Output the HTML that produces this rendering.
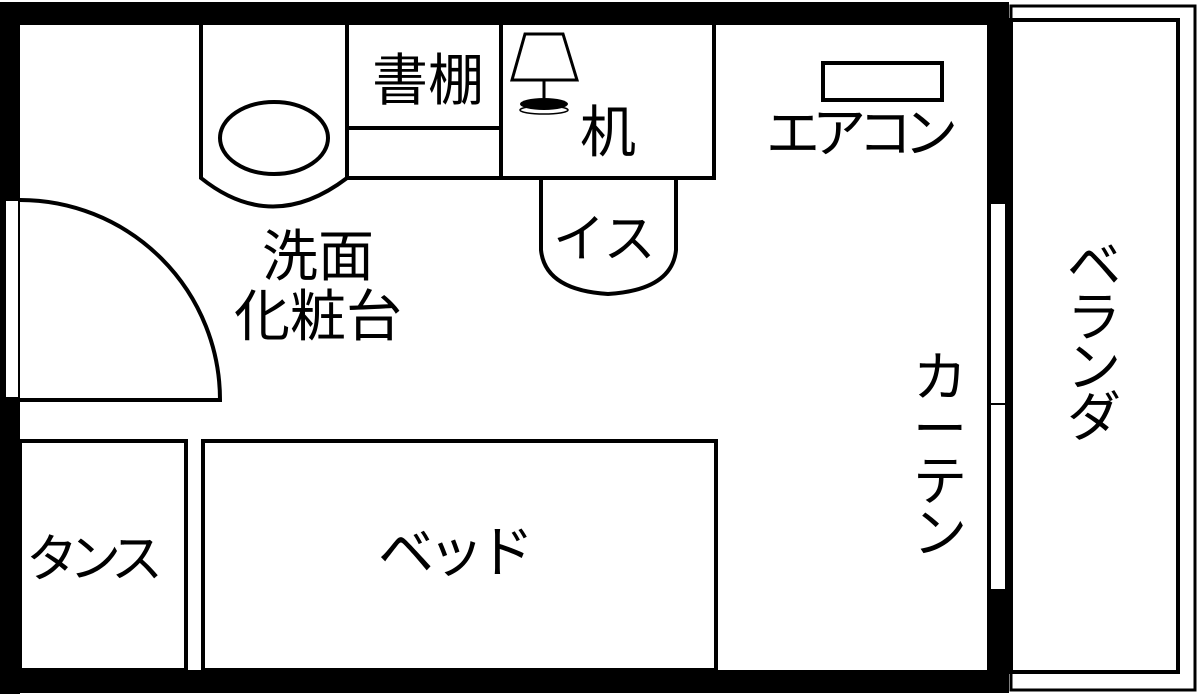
<!DOCTYPE html>
<html><head><meta charset="utf-8"><style>
html,body{margin:0;padding:0;background:#fff;}
svg{display:block;}
text{font-family:"Liberation Sans","Noto Sans CJK JP",sans-serif;fill:#000;}
</style></head><body>
<svg width="1200" height="696" viewBox="0 0 1200 696" xmlns="http://www.w3.org/2000/svg">
<rect width="1200" height="696" fill="#fff"/>
<!-- walls -->
<rect x="0" y="2" width="1008" height="23" fill="#000"/>
<rect x="0" y="2" width="20" height="692" fill="#000"/>
<rect x="0" y="670" width="1008" height="23" fill="#000"/>
<rect x="987" y="2" width="22" height="691" fill="#000"/>
<!-- left door window -->
<rect x="5" y="200" width="14" height="198" fill="#fff" stroke="#000" stroke-width="2"/>
<!-- right window -->
<rect x="990" y="203" width="16" height="387" fill="#fff" stroke="#000" stroke-width="2"/>
<line x1="990" y1="404" x2="1006" y2="404" stroke="#000" stroke-width="2"/>
<!-- balcony -->
<rect x="1011" y="6" width="184" height="684" fill="none" stroke="#000" stroke-width="3"/>
<rect x="1011" y="20" width="167" height="652" fill="none" stroke="#000" stroke-width="4"/>
<g fill="none" stroke="#000" stroke-width="4">
<path d="M20 200 A200 200 0 0 1 220 400 L20 400"/>
<path d="M201 24 V178 Q272 235 347 178 V24"/>
<ellipse cx="274" cy="138" rx="54" ry="36"/>
<path d="M347 24 V178 H714 V24 M347 128 H501 M501 24 V178"/>
<path d="M541 178 V250 Q545 290 608 294 Q672 290 676 250 V178"/>
<rect x="823" y="63" width="119" height="37"/>
<rect x="20" y="441" width="166" height="229"/>
<rect x="203" y="441" width="513" height="229"/>
</g>
<!-- lamp -->
<polygon points="525,34 563,34 577,80 512,80" fill="#fff" stroke="#000" stroke-width="3"/>
<line x1="544" y1="80" x2="544" y2="98" stroke="#000" stroke-width="3"/>
<ellipse cx="544" cy="104" rx="24" ry="6" fill="#000"/>
<ellipse cx="544" cy="110" rx="24" ry="4" fill="none" stroke="#000" stroke-width="1.5"/>
<!-- labels -->
<g font-size="56">
<text x="372" y="100">書棚</text>
<text x="580" y="152" font-size="56">机</text>
<text x="262" y="276">洗面</text>
<text x="234" y="336">化粧台</text>
<text x="553" y="257" font-size="52">イス</text>
<text x="766" y="152" font-size="54" letter-spacing="-8">エアコン</text>
<text x="26" y="577" font-size="52" letter-spacing="-9">タンス</text>
<text x="378" y="572" font-size="56" letter-spacing="-6">ベッド</text>
</g>
<g font-size="54" text-anchor="middle">
<text x="940" y="396">カ</text>
<text x="940" y="448">ー</text>
<text x="940" y="500">テ</text>
<text x="940" y="552">ン</text>
<text x="1094" y="284">ベ</text>
<text x="1094" y="336">ラ</text>
<text x="1094" y="386">ン</text>
<text x="1094" y="436">ダ</text>
</g>
</svg>
</body></html>
